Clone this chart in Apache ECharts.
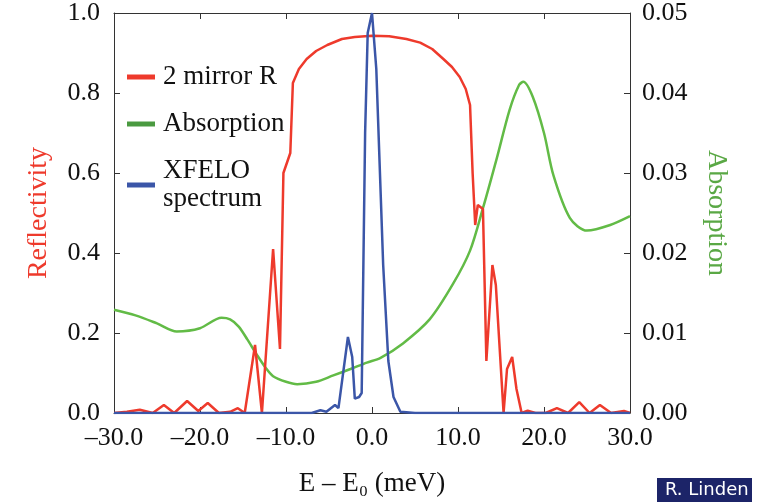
<!DOCTYPE html>
<html>
<head>
<meta charset="utf-8">
<script src="https://cdn.jsdelivr.net/npm/echarts@6/dist/echarts.min.js"></script>
<style>
  html, body { margin: 0; padding: 0; background: #fff; }
  #main { width: 758px; height: 502px; }
</style>
</head>
<body>
<div id="main"></div>
<script>
// 2 mirror reflectivity (left axis)
var reflE = [-30, -28.5, -27, -25.5, -24.2, -23, -21.5, -20.2, -19.1, -17.8, -16.5, -15.6, -14.8, -13.6, -12.8,
  -11.5, -10.7, -10.3, -9.5, -9.2, -8.5, -7.6, -6.5, -5.2, -3.5, -2, 0, 2, 4, 5.6, 7, 8.3, 9.3, 10.2, 10.9,
  11.4, 11.7, 12.0, 12.3, 12.9, 13.3, 14.0, 14.4, 15.3, 15.7, 16.3, 16.8, 17.4, 18.1, 19, 20.2, 21.5, 22.8,
  24.1, 25.3, 26.5, 27.8, 29.3, 30];
var reflR = [0.0, 0.003, 0.008, 0.0, 0.02, 0.0, 0.03, 0.005, 0.025, 0.0, 0.003, 0.012, 0.0, 0.17, 0.0,
  0.41, 0.16, 0.60, 0.65, 0.825, 0.86, 0.885, 0.905, 0.92, 0.935, 0.94, 0.943, 0.942, 0.935, 0.926, 0.91, 0.885, 0.865, 0.84, 0.81,
  0.77, 0.6, 0.47, 0.52, 0.51, 0.13, 0.37, 0.32, 0.0, 0.11, 0.14, 0.06, 0.0, 0.006, 0.0, 0.0, 0.012, 0.0,
  0.027, 0.0, 0.02, 0.0, 0.005, 0.0];

// absorption (right axis)
var absE = [-30, -27.5, -25, -22.7, -20, -17.5, -16.5, -15.5, -14.5, -13.4, -12.4, -11.5, -10, -8.7, -6.5, -4.5,
  -2.5, -0.6, 1, 3.6, 6.7, 9.4, 11.4, 12.9, 14.5, 16.0, 17.1, 17.6, 18.7, 20, 21.1, 23, 25, 27.7, 30];
var absA = [0.0129, 0.0122, 0.0112, 0.0102, 0.0106, 0.0119, 0.0117, 0.0108, 0.0092, 0.0073, 0.0057, 0.0046,
  0.0039, 0.0036, 0.0039, 0.0047, 0.0055, 0.0063, 0.0069, 0.0087, 0.0117, 0.0161, 0.0203, 0.0256, 0.0318,
  0.0379, 0.041, 0.0414, 0.0395, 0.035, 0.0297, 0.0244, 0.0228, 0.0235, 0.0246];

// XFELO spectrum, normalised (left axis)
var specE = [-30, -7, -6, -5.3, -4.3, -3.9, -2.8, -2.3, -2.0, -1.5, -1.2, -0.8, -0.5, 0, 0.5, 1.3, 1.9, 2.5, 3.3, 5, 30];
var specI = [0, 0, 0.007, 0.003, 0.02, 0.012, 0.19, 0.14, 0.036, 0.04, 0.05, 0.70, 0.95, 1.0, 0.86, 0.37, 0.13, 0.04, 0.003, 0, 0];

function pairs(xs, ys) {
  var out = [];
  for (var i = 0; i < xs.length; i++) out.push([xs[i], ys[i]]);
  return out;
}

var serif = '"Liberation Serif", "DejaVu Serif", serif';
var red = '#ee3a2c', green = '#62bb46', blue = '#3b56a8';
var axisCol = '#333';

var myChart = echarts.init(document.getElementById('main'));
myChart.setOption({
  animation: false,
  textStyle: { fontFamily: serif },
  grid: { left: 114, right: 128, top: 12, bottom: 84 },
  legend: {
    orient: 'vertical',
    left: 127, top: 63, padding: 0,
    icon: 'rect', itemWidth: 28, itemHeight: 5, itemGap: 19,
    textStyle: { fontFamily: serif, fontSize: 27, lineHeight: 28, color: '#111', padding: [0, 0, 0, 3] },
    data: [
      { name: '2 mirror R', itemStyle: { color: red } },
      { name: 'Absorption', itemStyle: { color: '#4a9a40' } },
      { name: 'XFELO\nspectrum', itemStyle: { color: blue } }
    ]
  },
  xAxis: [{
    type: 'value', min: -30, max: 30, interval: 10,
    name: 'E \u2013 E\u2080 (meV)', nameLocation: 'middle', nameGap: 57,
    nameTextStyle: { fontFamily: serif, fontSize: 27, color: '#111' },
    axisLine: { onZero: false, lineStyle: { color: axisCol } },
    axisTick: { inside: true, length: 6, lineStyle: { color: axisCol } },
    axisLabel: {
      fontFamily: serif, fontSize: 26, color: '#111', margin: 12,
      formatter: function (v) { return (v < 0 ? '\u2013' : '') + Math.abs(v).toFixed(1); }
    },
    splitLine: { show: false }
  }, {
    type: 'value', position: 'top', min: -30, max: 30, interval: 10,
    axisLine: { onZero: false, lineStyle: { color: axisCol } },
    axisTick: { inside: true, length: 6, lineStyle: { color: axisCol } },
    axisLabel: { show: false },
    splitLine: { show: false }
  }],
  yAxis: [{
    type: 'value', min: 0, max: 1, interval: 0.2, position: 'left',
    name: 'Reflectivity', nameLocation: 'middle', nameRotate: 90, nameGap: 61,
    nameTextStyle: { fontFamily: serif, fontSize: 28, color: red },
    axisLine: { show: true, onZero: false, lineStyle: { color: axisCol } },
    axisTick: { show: true, inside: true, length: 6, lineStyle: { color: axisCol } },
    axisLabel: { fontFamily: serif, fontSize: 26, color: '#111', margin: 14,
      formatter: function (v) { return v.toFixed(1); } },
    splitLine: { show: false }
  }, {
    type: 'value', min: 0, max: 0.05, interval: 0.01, position: 'right',
    name: 'Absorption', nameLocation: 'middle', nameRotate: -90, nameGap: 72,
    nameTextStyle: { fontFamily: serif, fontSize: 28, color: '#5aa845' },
    axisLine: { show: true, onZero: false, lineStyle: { color: axisCol } },
    axisTick: { show: true, inside: true, length: 6, lineStyle: { color: axisCol } },
    axisLabel: { fontFamily: serif, fontSize: 26, color: '#111', margin: 12,
      formatter: function (v) { return v.toFixed(2); } },
    splitLine: { show: false }
  }],
  series: [{
    name: 'Absorption', type: 'line', yAxisIndex: 1, smooth: 0.3, showSymbol: false,
    lineStyle: { color: green, width: 2.5 }, itemStyle: { color: green },
    data: pairs(absE, absA)
  }, {
    name: '2 mirror R', type: 'line', yAxisIndex: 0, showSymbol: false,
    lineStyle: { color: red, width: 2.5 }, itemStyle: { color: red },
    data: pairs(reflE, reflR)
  }, {
    name: 'XFELO\nspectrum', type: 'line', yAxisIndex: 0, showSymbol: false,
    lineStyle: { color: blue, width: 2.5 }, itemStyle: { color: blue },
    data: pairs(specE, specI)
  }],
  graphic: [{
    type: 'group', right: 6, bottom: 0,
    children: [{
      type: 'rect', shape: { x: 0, y: 0, width: 95, height: 24 },
      style: { fill: '#1c2468' }
    }, {
      type: 'text', x: 8, y: 3,
      style: { text: 'R. Linden', fill: '#fff', font: '18px "DejaVu Sans"' }
    }]
  }]
});
</script>
</body>
</html>
